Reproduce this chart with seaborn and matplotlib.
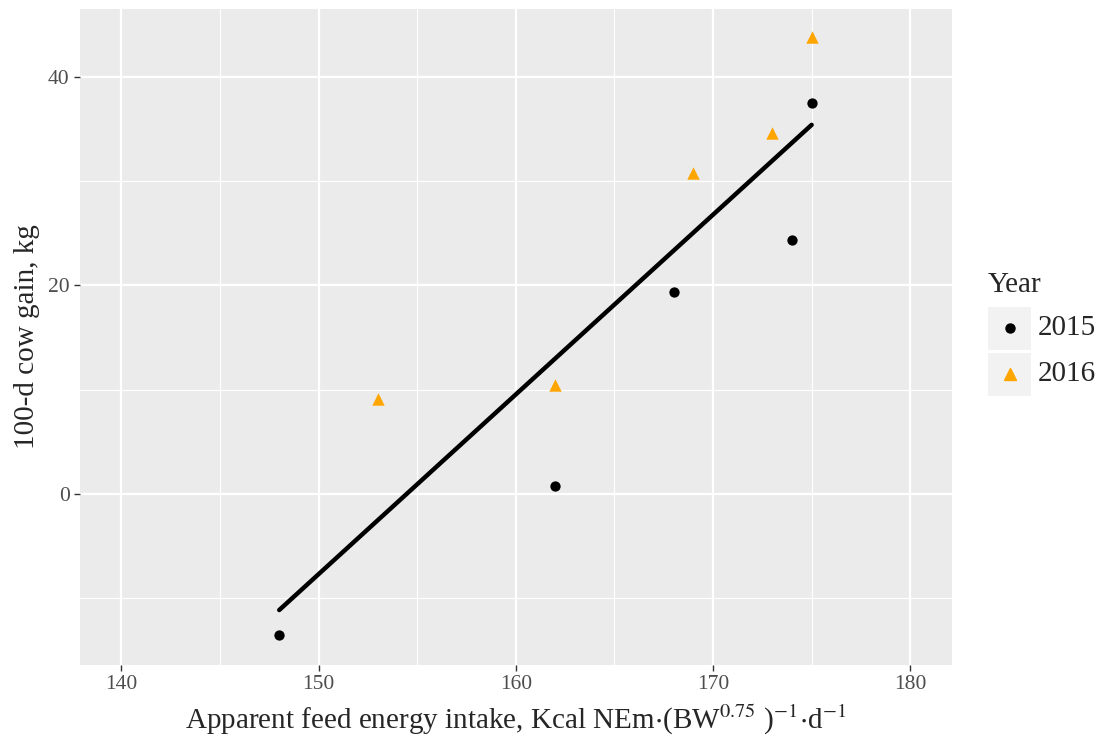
import numpy as np
import pandas as pd
import seaborn as sns
import matplotlib.pyplot as plt
from matplotlib.patches import Rectangle
from matplotlib.lines import Line2D

# values
intake_2015 = [148, 162, 168, 174, 175]
gain_2015 = [-13.6, 0.7, 19.4, 24.4, 37.5]
intake_2016 = [153, 162, 169, 173, 175]
gain_2016 = [9.1, 10.4, 30.8, 34.6, 43.9]
years = ["2015", "2016"]

df = pd.DataFrame({
    "intake": intake_2015 + intake_2016,
    "gain": gain_2015 + gain_2016,
    "Year": [years[0]] * 5 + [years[1]] * 5,
})

sns.set_theme(style="darkgrid", rc={
    "axes.facecolor": "#EBEBEB",
    "grid.color": "white",
    "axes.edgecolor": "#EBEBEB",
})
plt.rcParams["font.family"] = ["Liberation Serif", "DejaVu Serif"]
plt.rcParams["mathtext.fontset"] = "stix"

fig = plt.figure(figsize=(11.04, 7.46), dpi=100)
ax = fig.add_axes([0.0725, 0.1086, 0.7895, 0.880])

colors = {"2015": "black", "2016": "#FFA500"}
markers = {"2015": "o", "2016": "^"}
sizes = {"2015": 55, "2016": 80}

# overall fit across both years
sns.regplot(data=df, x="intake", y="gain", scatter=False, ci=None,
            color="black", line_kws={"linewidth": 3.2}, ax=ax)
for yr in years:
    sub = df[df["Year"] == yr]
    sns.scatterplot(data=sub, x="intake", y="gain", color=colors[yr],
                    marker=markers[yr], s=sizes[yr], linewidth=0,
                    ax=ax, zorder=3)

ax.set_xlim(137.9, 182.1)
ax.set_ylim(-16.45, 46.6)
ax.set_xticks([140, 150, 160, 170, 180])
ax.set_yticks([0, 20, 40])
ax.set_xticks([145, 155, 165, 175], minor=True)
ax.set_yticks([-10, 10, 30], minor=True)
ax.grid(which="major", color="white", linewidth=1.6)
ax.grid(which="minor", color="white", linewidth=0.8)
ax.tick_params(which="major", length=4, width=1, color="#333333",
               labelsize=15.5, labelcolor="#4D4D4D", bottom=True, left=True)
ax.tick_params(which="minor", length=0)
for s in ax.spines.values():
    s.set_visible(False)

ax.set_xlabel(r"Apparent feed energy intake, Kcal NEm$\cdot$(BW$^{0.75}$ )$^{-1}$$\cdot$d$^{-1}$",
              fontsize=21, labelpad=6)
ax.set_ylabel("100-d cow gain, kg", fontsize=21, labelpad=6)

# legend with grey key boxes
fig.text(0.895, 0.600, "Year", fontsize=21, va="bottom", ha="left")
leg_ms = {"2015": 6.5, "2016": 8.5}
for i, yr in enumerate(years):
    yb = 0.531 - i * 0.0617
    fig.patches.append(Rectangle((0.895, yb), 0.039, 0.0577,
                                 transform=fig.transFigure,
                                 facecolor="#F2F2F2", edgecolor="none"))
    fig.lines.append(Line2D([0.9145], [yb + 0.0288], transform=fig.transFigure,
                            marker=markers[yr], color=colors[yr],
                            markersize=leg_ms[yr], linestyle="none"))
    fig.text(0.940, yb + 0.0288, yr, fontsize=21, va="center", ha="left")

fig.savefig("out.png", dpi=100)
